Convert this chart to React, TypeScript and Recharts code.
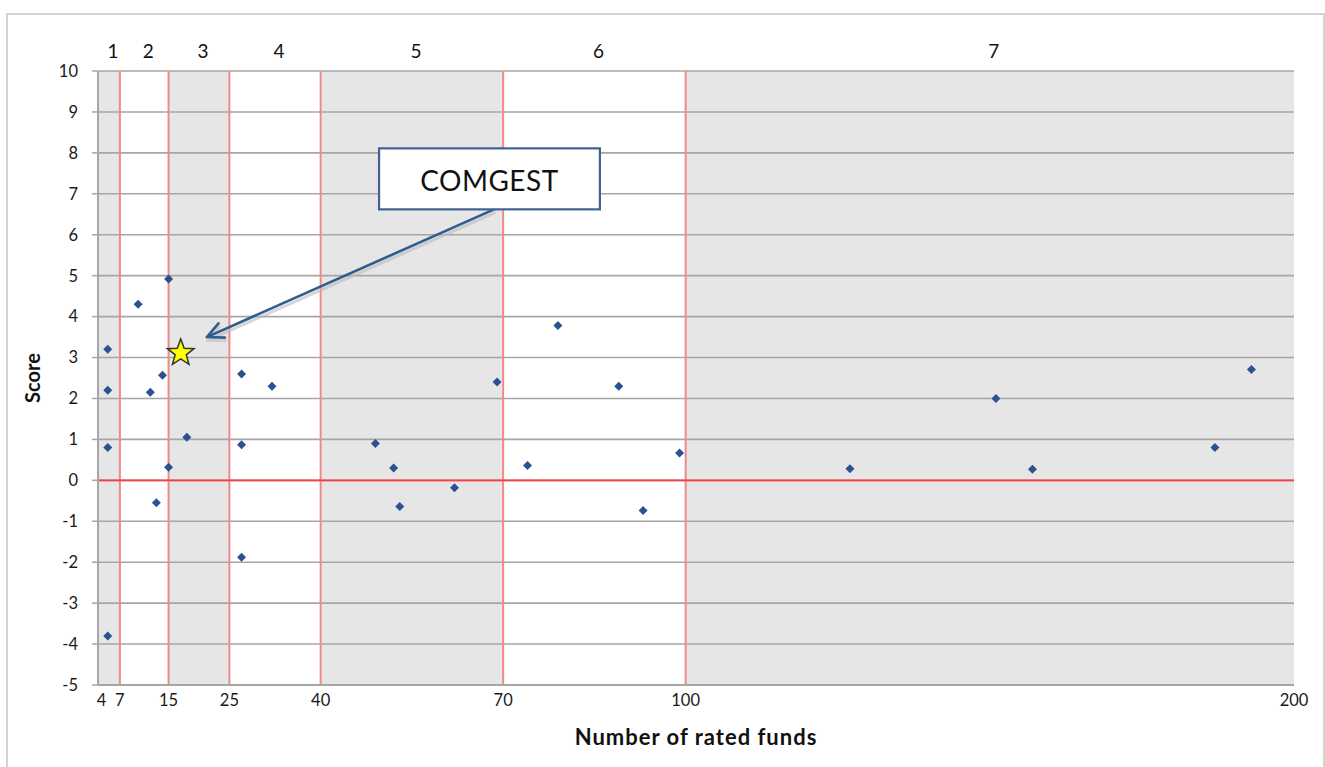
import { ScatterChart, Scatter, XAxis, YAxis, ReferenceArea, ReferenceLine } from 'recharts'

// number of rated funds per company and its score
const fundCounts = [5, 5, 5, 5, 10, 12, 13, 14, 15, 15, 18, 27, 27, 27, 32, 49, 52, 53, 62, 69, 74, 79, 89, 93, 99, 127, 151, 157, 187, 193]
const scores = [3.2, 2.2, 0.8, -3.8, 4.3, 2.15, -0.55, 2.57, 4.92, 0.32, 1.05, 2.6, 0.87, -1.88, 2.3, 0.9, 0.3, -0.64, -0.18, 2.4, 0.36, 3.78, 2.3, -0.74, 0.67, 0.28, 2.0, 0.27, 0.8, 2.71]

const comgestFunds = [17]
const comgestScores = [3.11]

const xTicks = [4, 7, 15, 25, 40, 70, 100, 200]
const yTicks = [-5, -4, -3, -2, -1, 0, 1, 2, 3, 4, 5, 6, 7, 8, 9, 10]
const xMin = 3.4
const xMax = 200

const bandEdges = [3.4, 7, 15, 25, 40, 70, 100, 200]
const bandLabels = ['1', '2', '3', '4', '5', '6', '7']
const redLines = [7, 15, 25, 40, 70, 100]

// callout: box corners and arrow (start, tip) in data units
const calloutBox = [{ x: 49.6, y: 8.11 }, { x: 85.9, y: 6.62 }]
const calloutArrow = [{ x: 68.5, y: 6.62 }, { x: 21.3, y: 3.5 }]
const calloutText = 'COMGEST'

const points = fundCounts.map((n, i) => ({ funds: n, score: scores[i] }))
const comgest = comgestFunds.map((n, i) => ({ funds: n, score: comgestScores[i] }))

const font = 'Lato, "Open Sans", sans-serif'
const blue = '#2A5290'

const Diamond = (props: any) => {
  const { cx, cy } = props
  const r = 4.5
  return <polygon points={`${cx},${cy - r} ${cx + r},${cy} ${cx},${cy + r} ${cx - r},${cy}`} fill={blue} />
}

const Star = (props: any) => {
  const { cx, cy } = props
  const pts: string[] = []
  for (let i = 0; i < 10; i++) {
    const r = i % 2 === 0 ? 14 : 5.8
    const a = -Math.PI / 2 + (i * Math.PI) / 5
    pts.push(`${cx + r * Math.cos(a)},${cy + r * Math.sin(a)}`)
  }
  return <polygon points={pts.join(' ')} fill="#FFFF00" stroke="#333" strokeWidth={1.5} />
}

const ArrowShape = (props: any) => {
  const { x1, y1, x2, y2 } = props
  const ang = Math.atan2(y2 - y1, x2 - x1)
  const len = 18
  const spread = 0.45
  const ax = x2 - len * Math.cos(ang - spread)
  const ay = y2 - len * Math.sin(ang - spread)
  const bx = x2 - len * Math.cos(ang + spread)
  const by = y2 - len * Math.sin(ang + spread)
  return (
    <g>
      <g stroke="#BBB" strokeWidth={3} fill="none" opacity={0.6} transform="translate(1.5,3)">
        <line x1={x1} y1={y1} x2={x2} y2={y2} />
        <polyline points={`${ax},${ay} ${x2},${y2} ${bx},${by}`} />
      </g>
      <g stroke="#2F5D8F" strokeWidth={2.6} fill="none" strokeLinecap="round" strokeLinejoin="round">
        <line x1={x1} y1={y1} x2={x2} y2={y2} />
        <polyline points={`${ax},${ay} ${x2},${y2} ${bx},${by}`} />
      </g>
    </g>
  )
}

const BoxShape = (props: any) => {
  const { x1, y1, x2, y2 } = props
  const left = Math.min(x1, x2)
  const top = Math.min(y1, y2)
  const w = Math.abs(x2 - x1)
  const h = Math.abs(y2 - y1)
  return (
    <g>
      <rect x={left} y={top} width={w} height={h} fill="#fff" stroke="#41628F" strokeWidth={2.2} />
      <text x={left + w / 2} y={top + h / 2 + 1} textAnchor="middle" dominantBaseline="central" fontSize={28} letterSpacing={0.5} fontFamily={font} fill="#111">
        {calloutText}
      </text>
    </g>
  )
}

export default function App() {
  return (
    <div style={{ position: 'absolute', left: 0, top: 0, width: 1325, height: 767, background: '#fff', overflow: 'hidden' }}>
      <div style={{ position: 'absolute', left: 6, top: 13, width: 1315, height: 770, border: '2px solid #D2D2D2' }} />
      <div style={{ position: 'absolute', left: 0, top: 0 }}>
        <ScatterChart width={1325} height={767} margin={{ top: 71, right: 31, bottom: 22, left: 20 }}>
          <XAxis
            type="number"
            dataKey="funds"
            domain={[xMin, xMax]}
            ticks={xTicks}
            interval={0}
            allowDataOverflow
            axisLine={{ stroke: '#A6A6A6', strokeWidth: 2 }}
            tickLine={false}
            tickMargin={3}
            height={60}
            tick={{ fontSize: 16.5, fill: '#1a1a1a', fontFamily: font }}
            label={{ value: 'Number of rated funds', position: 'insideBottom', offset: 0, fontSize: 22, letterSpacing: 1, fontWeight: 'bold', fill: '#111', fontFamily: font }}
          />
          <YAxis
            type="number"
            dataKey="score"
            domain={[-5, 10]}
            ticks={yTicks}
            interval={0}
            width={78}
            axisLine={{ stroke: '#A6A6A6', strokeWidth: 2 }}
            tickLine={{ stroke: '#A6A6A6', strokeWidth: 1.5 }}
            tickSize={6}
            tickMargin={14}
            tick={{ fontSize: 16.5, fill: '#1a1a1a', fontFamily: font }}
            label={{ value: 'Score', angle: -90, position: 'center', dx: -26, fontSize: 20, fontWeight: 'bold', fill: '#111', fontFamily: font }}
          />
          {bandLabels.map((lab, i) => (
            <ReferenceArea
              key={'band' + lab}
              x1={bandEdges[i]}
              x2={bandEdges[i + 1]}
              y1={-5}
              y2={10}
              fill={i % 2 === 0 ? '#E6E6E6' : '#FFFFFF'}
              fillOpacity={1}
              stroke="none"
              label={{ value: lab, position: 'top', offset: 13, dx: 4, fontSize: 19, fill: '#111', fontFamily: font }}
            />
          ))}
          {yTicks.map(v => (
            <ReferenceLine key={'g' + v} y={v} stroke="#A6A6A6" strokeWidth={1.6} />
          ))}
          {redLines.map(v => (
            <ReferenceLine key={'r' + v} x={v} stroke="#F08A8A" strokeWidth={2} />
          ))}
          <ReferenceLine y={0} stroke="#FF3B3B" strokeWidth={1.6} />
          <ReferenceLine segment={calloutArrow} shape={ArrowShape} />
          <ReferenceLine segment={calloutBox} shape={BoxShape} />
          <Scatter data={points} shape={Diamond} isAnimationActive={false} />
          <Scatter data={comgest} shape={Star} isAnimationActive={false} />
        </ScatterChart>
      </div>
    </div>
  )
}
